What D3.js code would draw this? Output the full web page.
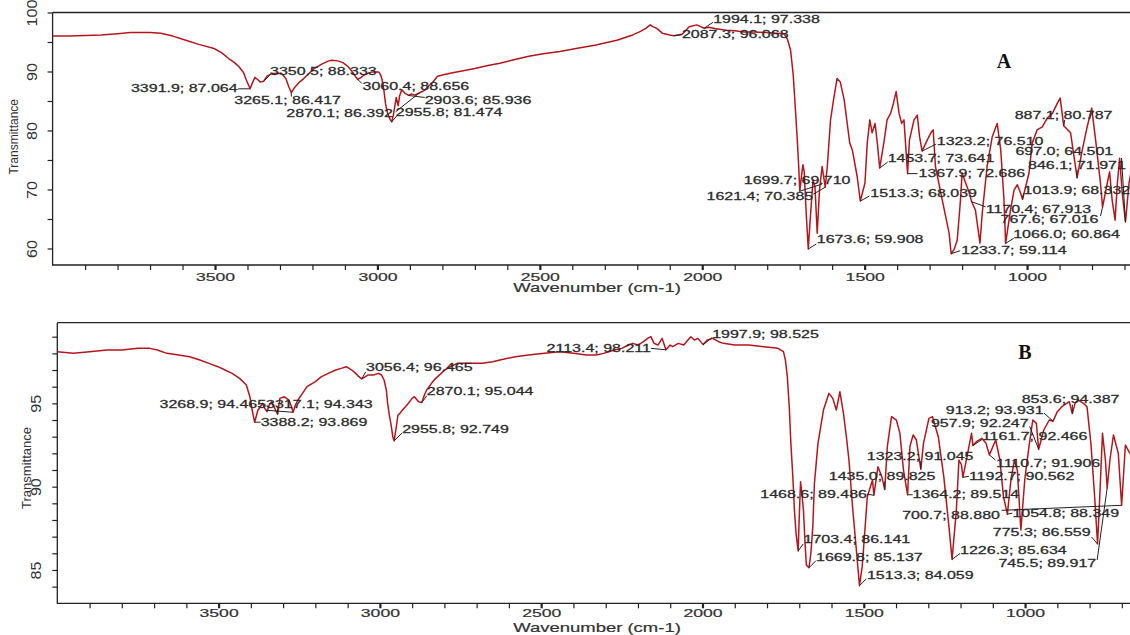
<!DOCTYPE html>
<html><head><meta charset="utf-8">
<script src="https://cdn.jsdelivr.net/npm/d3@7"></script>
<style>
html,body{margin:0;padding:0;background:#fff;overflow:hidden;}
svg{display:block;}
</style></head><body>
<svg id="chart" width="1130" height="635"></svg>
<script>
// ---------------- spectrum data: [wavenumber cm-1, transmittance %] ----------------
const specA = [
[4000,96.0],[3950,96.0],[3900,96.1],[3850,96.2],[3800,96.4],[3760,96.6],[3734,96.6],[3700,96.6],[3667,96.5],[3630,96.0],
[3590,95.3],[3550,94.6],[3503,93.9],[3480,93.2],[3458,92.2],[3440,91.5],[3426,90.8],[3412,89.8],[3404,88.6],[3391.9,87.064],
[3384,88.2],[3377,89.0],[3368,88.6],[3360,88.2],[3350.5,88.333],[3340,89.2],[3327,89.6],[3310,89.7],[3294,89.6],[3282,88.8],
[3272,87.3],[3265.1,86.417],[3255,87.3],[3240,88.2],[3227,88.8],[3210,89.7],[3195,90.5],[3170,91.3],[3150,91.8],[3140,91.9],
[3122,91.8],[3106,91.5],[3090,90.8],[3078,90.0],[3068,89.2],[3060.4,88.656],[3050,89.0],[3041,89.4],[3019,89.9],[2996,89.9],
[2990,89.4],[2986,88.7],[2980,86.8],[2975,84.5],[2968,82.8],[2960,81.8],[2955.8,81.474],[2951,82.6],[2947,83.9],[2942,85.6],
[2936,84.2],[2932,85.8],[2925,86.9],[2915,86.3],[2903.6,85.936],[2895,86.2],[2885,86.0],[2870.1,86.392],[2862,86.6],[2853,86.9],
[2843,87.5],[2832,88.0],[2815,89.2],[2800,89.4],[2776,89.7],[2740,90.1],[2700,90.5],[2660,91.0],[2623,91.4],[2580,92.0],
[2534,92.6],[2490,93.0],[2438,93.4],[2380,94.0],[2327,94.5],[2263,95.3],[2214,96.2],[2190,96.8],[2174,97.3],[2160,97.9],
[2152,97.6],[2140,97.3],[2123,96.5],[2100,96.2],[2087.3,96.068],[2062,96.3],[2050,97.0],[2040,97.6],[2017,97.9],[2005,97.6],
[1994.1,97.338],[1980,97.5],[1961,97.3],[1927,97.0],[1900,96.9],[1871,96.7],[1840,96.7],[1804,96.6],[1770,96.5],[1748,96.4],
[1738,95.5],[1728,93.6],[1720,89.5],[1715,85.2],[1708,79.0],[1703,73.9],[1699.7,69.71],[1695,72.0],[1690,74.2],[1686,73.0],
[1680,66.0],[1673.6,59.908],[1667,65.4],[1659,71.6],[1653,70.5],[1646,62.6],[1639,69.9],[1631,73.9],[1621.4,70.385],[1615,73.9],
[1605,81.8],[1595,85.5],[1585,88.8],[1575,88.2],[1563,85.2],[1546,77.9],[1538,76.7],[1523,72.2],[1513.3,68.039],[1499,71.1],
[1492,77.9],[1484,81.8],[1477,79.6],[1468,81.2],[1461,77.9],[1453.7,73.641],[1441,77.9],[1431,81.8],[1420,82.9],[1412,84.5],
[1403,86.6],[1394,82.9],[1386,81.2],[1379,81.8],[1367.9,72.686],[1362,78.4],[1348,81.8],[1338,82.6],[1331,79.0],[1323.2,76.51],
[1307,78.4],[1294,79.8],[1289,80.1],[1282,73.9],[1261,68.2],[1240,62.6],[1233.7,59.114],[1225,59.8],[1215,61.4],[1205,68.2],
[1200,72.8],[1189,71.1],[1179,69.6],[1170.4,67.913],[1159,66.5],[1145,60.9],[1138,66.0],[1123,73.9],[1107,79.0],[1092,81.2],
[1081,76.7],[1071,68.2],[1066,60.864],[1051,66.5],[1040,69.9],[1030,70.8],[1020,69.4],[1013.9,68.332],[994,72.8],[984,77.9],
[969,80.1],[953,80.6],[938,82.1],[922,82.9],[907,84.6],[898,85.5],[887.1,80.787],[866,79.6],[851,73.9],[846.1,71.971],
[830,76.7],[815,80.6],[801,83.8],[789,78.4],[774,71.1],[767.6,67.016],[753,71.1],[746,73.0],[738,68.2],[729,64.8],
[722,71.1],[715,75.3],[707,69.4],[697,64.501],[686,71.1],[677,73.9]
];

const specB = [
[4000,98.1],[3950,98.0],[3900,98.1],[3846,98.2],[3800,98.2],[3750,98.3],[3713,98.3],[3690,98.2],[3660,98.0],[3624,97.9],
[3590,97.8],[3558,97.6],[3530,97.4],[3502,97.2],[3480,97.0],[3458,96.8],[3435,96.5],[3414,96.1],[3403,95.4],[3396,94.6],
[3388.2,93.869],[3378,94.6],[3370,94.8],[3364,95.0],[3357,94.7],[3350,94.5],[3343,94.9],[3336,95.1],[3317.1,94.343],[3310,95.3],
[3297,95.4],[3282,95.2],[3274,94.8],[3268.9,94.465],[3262,94.9],[3254,95.2],[3240,95.6],[3226,96.0],[3200,96.3],[3181,96.6],
[3160,96.8],[3137,97.0],[3120,97.1],[3104,97.2],[3087,97.0],[3075,96.8],[3065,96.6],[3056.4,96.465],[3045,96.6],[3037,96.7],
[3020,96.7],[3004,96.8],[2995,96.7],[2987,96.4],[2980,95.8],[2976,95.0],[2970,94.2],[2966,93.8],[2960,93.0],[2955.8,92.749],
[2949,93.6],[2944,94.3],[2938,94.4],[2930,94.6],[2916,94.9],[2900,95.3],[2893,95.4],[2880,95.1],[2870.1,95.044],[2862,95.5],
[2855,95.8],[2840,96.2],[2827,96.5],[2810,96.8],[2799,97.0],[2780,97.2],[2761,97.4],[2720,97.4],[2683,97.4],[2650,97.5],
[2628,97.6],[2580,97.8],[2539,97.9],[2490,98.0],[2442,98.1],[2400,98.0],[2360,97.9],[2329,97.9],[2307,98.0],[2290,98.1],
[2273,98.2],[2250,98.3],[2230,98.5],[2216,98.6],[2200,98.5],[2183,98.7],[2170,98.9],[2160,99.0],[2150,98.6],[2138,98.5],
[2125,98.9],[2113.4,98.211],[2100,98.5],[2092,98.4],[2075,98.6],[2058,98.5],[2045,98.8],[2036,99.0],[2025,98.8],[2014,98.9],
[1997.9,98.525],[1985,98.8],[1968,98.9],[1950,98.7],[1935,98.6],[1900,98.5],[1856,98.5],[1810,98.4],[1766,98.3],[1749,98.1],
[1743,97.6],[1737,96.6],[1731,94.8],[1726,92.6],[1720,90.6],[1715,88.6],[1710,87.2],[1703.4,86.141],[1700,88.2],[1696,90.3],
[1692,89.6],[1687,88.6],[1682,86.6],[1678,85.3],[1669.8,85.137],[1664,86.0],[1658,87.6],[1653,90.2],[1642,92.6],[1625,94.6],
[1608,95.6],[1596,95.3],[1585,94.6],[1574,95.7],[1563,94.4],[1554,93.0],[1546,91.6],[1534,88.6],[1523,86.2],[1513.3,84.059],
[1505,85.2],[1501,86.2],[1489,89.4],[1473,90.4],[1468.6,89.486],[1456,91.2],[1444,90.6],[1435,89.825],[1427,92.4],[1414,94.2],
[1399,94.0],[1388,93.2],[1377,91.0],[1364.2,89.514],[1357,92.4],[1347,93.1],[1337,92.8],[1323.2,91.045],[1315,92.6],[1298,94.1],
[1287,94.2],[1269,93.0],[1252,90.6],[1236,87.6],[1226.3,85.634],[1213,88.6],[1205,91.6],[1197,91.3],[1192.7,90.562],[1180,91.8],
[1166,93.2],[1161.7,92.466],[1151,92.7],[1134,92.9],[1121,92.6],[1110.7,91.906],[1091,92.8],[1078,91.6],[1067,89.4],[1054.8,88.349],
[1044,90.4],[1033,91.6],[1024,91.0],[1013,87.4],[1001,90.4],[988,92.4],[976,94.0],[965,93.8],[957.9,92.247],[942,93.4],
[925,94.0],[913.2,93.931],[900,94.5],[886,94.8],[863,95.1],[853.6,94.387],[845,95.0],[835,95.2],[819,95.0],[808,94.8],
[796,92.6],[785,89.6],[775.3,86.559],[768,89.6],[760,93.2],[751,91.6],[745.5,89.917],[737,91.6],[726,93.1],[711,92.0],
[700.7,88.88],[689,92.5],[675,92.0]
];

// ---------------- labelled peaks: [wavenumber, transmittance] ----------------
const peaksA = [
[3391.9,87.064],[3350.5,88.333],[3265.1,86.417],[3060.4,88.656],[2903.6,85.936],[2870.1,86.392],[2955.8,81.474],
[1994.1,97.338],[2087.3,96.068],[1699.7,69.710],[1621.4,70.385],[1673.6,59.908],[1513.3,68.039],[1453.7,73.641],
[1323.2,76.510],[1367.9,72.686],[1170.4,67.913],[767.6,67.016],[1066.0,60.864],[1233.7,59.114],[1013.9,68.332],
[697.0,64.501],[846.1,71.971],[887.1,80.787]
];
const peaksB = [
[3268.9,94.465],[3317.1,94.343],[3388.2,93.869],[3056.4,96.465],[2870.1,95.044],[2955.8,92.749],[2113.4,98.211],
[1997.9,98.525],[853.6,94.387],[913.2,93.931],[957.9,92.247],[1161.7,92.466],[1323.2,91.045],[1110.7,91.906],
[1435.0,89.825],[1192.7,90.562],[1468.6,89.486],[1364.2,89.514],[700.7,88.880],[1054.8,88.349],[775.3,86.559],
[1703.4,86.141],[1226.3,85.634],[745.5,89.917],[1669.8,85.137],[1513.3,84.059]
];

// ---------------- tick labels ----------------
const xTickLabels = [3500, 3000, 2500, 2000, 1500, 1000];
const yTicksA = [60, 65, 70, 75, 80, 85, 90, 95, 100];
const yLabelsA = [60, 70, 80, 90, 100];
const yTicksB = [84, 85, 86, 87, 88, 89, 90, 91, 92, 93, 94, 95, 96, 97, 98, 99];
const yLabelsB = [85, 90, 95];
const panelTags = ["A", "B"];
const xTitle = "Wavenumber (cm-1)";
const yTitle = "Transmittance";

// ---------------- label placement (pixel offsets from the peak point) ----------------
// [dx, dy, anchor, leader dx, leader dy]
const layoutA = [
[-12.5,0,"end",-12,0],[6.5,-9.6,"start",6,-6],[-57,7.5,"start",0,4],[4.7,7,"start",4,4],[16,5,"start",16,2],
[-26.6,21,"end",-24,19],[4,-9,"start",5,-6],[9,-9,"start",9,-6],[8,-1,"start",8,-1],[-56,-11,"start",22,-7],
[-12,9,"end",-12,7],[8.5,-10,"start",8,-5],[10,-8,"start",9,-5],[8,-10,"start",8,-6],[14.7,-9.5,"start",14,-7],
[11,0,"start",10,0],[14,7.6,"start",14,5],[-102,12.5,"start",-2,9],[7.6,-9,"start",8,-5],[10,-3,"start",9,-3],
[1,-8.5,"start",1,-6],[-110,-70,"start",-4,-64],[-49,-12.7,"start",0,-8],[-49,-10.6,"start",1,-6]
];
const layoutB = [
[-27,-8,"end",-27,-2],[-11.6,-10,"start",0,-6],[6,0,"start",6,0],[4.3,-11.6,"start",4,-7],[5,-11,"start",5,-7],
[8,-11.5,"start",8,-8],[-15,-1.5,"end",-15,-1.5],[9,-10.5,"start",9,-7],[-50.6,-14,"start",0,-9],[-9.5,-10.4,"end",-9,-8],
[-10,-26,"end",-9,-23],[9,-9.5,"start",9,-6],[-54,-13,"start",0,-8],[6.6,8.4,"start",6,5],[-56,-13,"start",0,-8],
[6,-1,"start",6,-1],[-7,-1,"end",-7,-1],[5,0,"start",5,0],[-121.7,10,"end",-120,5],[5,-1,"start",5,-1],
[-7,-11,"end",-6,-7],[5.4,-11,"start",5,-7],[8,-8.7,"start",8,-6],[-11,75,"end",-10,72],[7,-10.4,"start",7,-7],
[7.5,-10,"start",7,-7]
];

// ---------------- drawing ----------------
const W = 1130;
const FONT = "'Liberation Sans', Arial, sans-serif";
const INK = "#2b2b2b";
const svg = d3.select("#chart");

const panels = [
  { spec: specA, peaks: peaksA, layout: layoutA, yTicks: yTicksA, yLabels: yLabelsA,
    x: d3.scaleLinear().domain([4000, 680]).range([52.6, 1131]),
    y: d3.scaleLinear().domain([100, 57.2]).range([12.5, 265]),
    tag: panelTags[0], tagX: 1004, tagY: 61, titleY: 288, tickPad: 3, yTitleX: 14, yTitleSize: 12 },
  { spec: specB, peaks: peaksB, layout: layoutB, yTicks: yTicksB, yLabels: yLabelsB,
    x: d3.scaleLinear().domain([4000, 680]).range([57.3, 1128.3]),
    y: d3.scaleLinear().domain([99.84, 83]).range([322.7, 603.3]),
    tag: panelTags[1], tagX: 1025, tagY: 352, titleY: 627.5, tickPad: 1, yTitleX: 26, yTitleSize: 13 }
];

const xTickValues = d3.range(3900, 650, -100);

panels.forEach((p, i) => {
  const left = p.x.range()[0];
  const top = p.y.range()[0];
  const bottom = p.y.range()[1];
  const g = svg.append("g");

  // clip region for the trace
  const clipId = "clip" + i;
  svg.append("clipPath").attr("id", clipId)
    .append("rect").attr("x", left).attr("y", top).attr("width", W - left).attr("height", bottom - top);

  // x axis ticks and labels
  const ax = d3.axisBottom(p.x).tickValues(xTickValues).tickSize(5).tickPadding(p.tickPad)
    .tickFormat(d => xTickLabels.includes(d) ? d : "");
  const gx = g.append("g").attr("transform", `translate(0,${bottom})`).call(ax);
  gx.select(".domain").remove();
  gx.selectAll(".tick line").attr("stroke", "#222").attr("stroke-width", d => d % 500 === 0 ? 2.2 : 1.2);
  gx.selectAll(".tick text").attr("font-family", FONT).attr("font-size", 11).attr("fill", "#333")
    .attr("stroke", "#333").attr("stroke-width", 0.2)
    .attr("transform", "scale(1.6,1)");

  // y axis ticks and rotated labels
  const ay = d3.axisLeft(p.y).tickValues(p.yTicks).tickSize(5)
    .tickFormat(d => p.yLabels.includes(d) ? d : "");
  const gy = g.append("g").attr("transform", `translate(${left},0)`).call(ay);
  gy.select(".domain").remove();
  gy.selectAll(".tick line").attr("stroke", "#222").attr("stroke-width", 1.2);
  gy.selectAll(".tick text").attr("font-family", FONT).attr("font-size", 14).attr("fill", "#333")
    .attr("x", 0).attr("dy", "0.35em").attr("text-anchor", "middle")
    .attr("transform", "translate(-21,0) rotate(-90) scale(1.15,1)");

  // frame (open on the right)
  g.append("path")
    .attr("d", `M${left},${top}H${W}M${left},${top}V${bottom}H${W}`)
    .attr("fill", "none").attr("stroke", "#222").attr("stroke-width", 1.3);

  // spectrum trace
  const line = d3.line().x(d => p.x(d[0])).y(d => p.y(d[1]));
  g.append("path").datum(p.spec)
    .attr("clip-path", `url(#${clipId})`)
    .attr("d", line)
    .attr("fill", "none").attr("stroke", "#b5161c").attr("stroke-width", 1.5)
    .attr("stroke-linejoin", "round");

  // peak annotations: leader line + "wavenumber; transmittance"
  p.peaks.forEach((pk, j) => {
    const [dx, dy, anchor, ldx, ldy] = p.layout[j];
    const px = p.x(pk[0]), py = p.y(pk[1]);
    g.append("line")
      .attr("x1", px).attr("y1", py).attr("x2", px + ldx).attr("y2", py + ldy)
      .attr("stroke", "#222").attr("stroke-width", 1);
    g.append("text")
      .attr("transform", `translate(${px + dx},${py + dy}) scale(1.6,1)`)
      .attr("text-anchor", anchor).attr("dy", "0.35em")
      .attr("font-family", FONT).attr("font-size", 10).attr("fill", INK)
      .attr("stroke", INK).attr("stroke-width", 0.25)
      .text(`${pk[0].toFixed(1)}; ${pk[1].toFixed(3)}`);
  });

  // axis titles
  g.append("text")
    .attr("transform", `translate(597,${p.titleY}) scale(1.48,1)`)
    .attr("text-anchor", "middle").attr("dy", "0.35em")
    .attr("font-family", FONT).attr("font-size", 12.5).attr("fill", "#333")
    .attr("stroke", "#333").attr("stroke-width", 0.2)
    .text(xTitle);
  g.append("text")
    .attr("transform", `translate(${p.yTitleX},${(top + bottom) / 2 + (i ? 5 : -2)}) rotate(-90)`)
    .attr("text-anchor", "middle").attr("dy", "0.35em")
    .attr("font-family", FONT).attr("font-size", p.yTitleSize).attr("fill", "#333")
    .text(yTitle);

  // panel tag
  g.append("text")
    .attr("x", p.tagX).attr("y", p.tagY).attr("dy", "0.35em").attr("text-anchor", "middle")
    .attr("font-family", "'Liberation Serif', 'Times New Roman', serif")
    .attr("font-weight", "bold").attr("font-size", 20).attr("fill", "#111")
    .text(p.tag);
});
</script>
</body></html>
